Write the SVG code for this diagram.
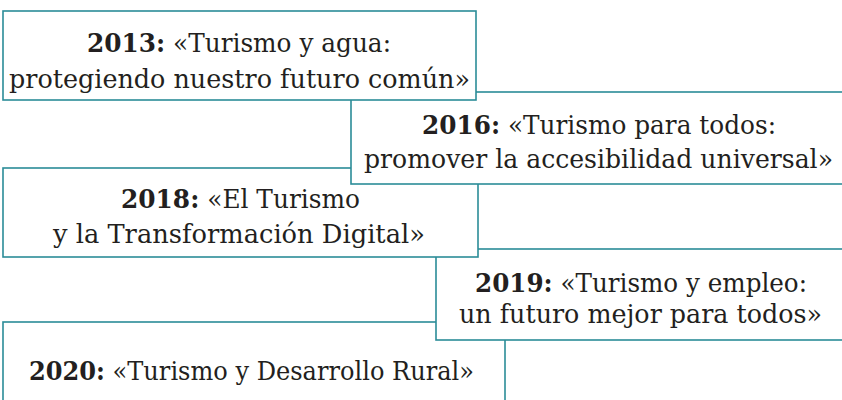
<svg xmlns="http://www.w3.org/2000/svg" width="842" height="400" viewBox="0 0 842 400">
<style>
.box{fill:#ffffff;stroke:#2b8c98;stroke-width:1.6}
.t{font-family:"DejaVu Serif","Liberation Serif",serif;font-size:25.5px;fill:#231f20;text-anchor:middle}
.b{font-weight:bold}
</style>
<rect width="842" height="400" fill="#ffffff"/>
<g id="node-2020">
<rect class="box" x="3" y="322" width="502" height="100"/>
<text class="t" x="251.5" y="380" textLength="445" lengthAdjust="spacingAndGlyphs"><tspan class="b">2020:</tspan> «Turismo y Desarrollo Rural»</text>
</g>
<g id="node-2019">
<rect class="box" x="436" y="249" width="412" height="91"/>
<text class="t" x="641" y="292" textLength="332" lengthAdjust="spacingAndGlyphs"><tspan class="b">2019:</tspan> «Turismo y empleo:</text>
<text class="t" x="640.5" y="323" textLength="363" lengthAdjust="spacingAndGlyphs">un futuro mejor para todos»</text>
</g>
<g id="node-2018">
<rect class="box" x="3" y="168" width="475" height="89"/>
<text class="t" x="240.5" y="208" textLength="239" lengthAdjust="spacingAndGlyphs"><tspan class="b">2018:</tspan> «El Turismo</text>
<text class="t" x="239" y="243" textLength="372" lengthAdjust="spacingAndGlyphs">y la Transformación Digital»</text>
</g>
<g id="node-2016">
<rect class="box" x="351" y="92" width="497" height="92"/>
<text class="t" x="599" y="134" textLength="354" lengthAdjust="spacingAndGlyphs"><tspan class="b">2016:</tspan> «Turismo para todos:</text>
<text class="t" x="598.5" y="168" textLength="469" lengthAdjust="spacingAndGlyphs">promover la accesibilidad universal»</text>
</g>
<g id="node-2013">
<rect class="box" x="3" y="11" width="473" height="89"/>
<text class="t" x="239" y="52" textLength="304" lengthAdjust="spacingAndGlyphs"><tspan class="b">2013:</tspan> «Turismo y agua:</text>
<text class="t" x="239.5" y="87.5" textLength="461" lengthAdjust="spacingAndGlyphs">protegiendo nuestro futuro común»</text>
</g>
</svg>
